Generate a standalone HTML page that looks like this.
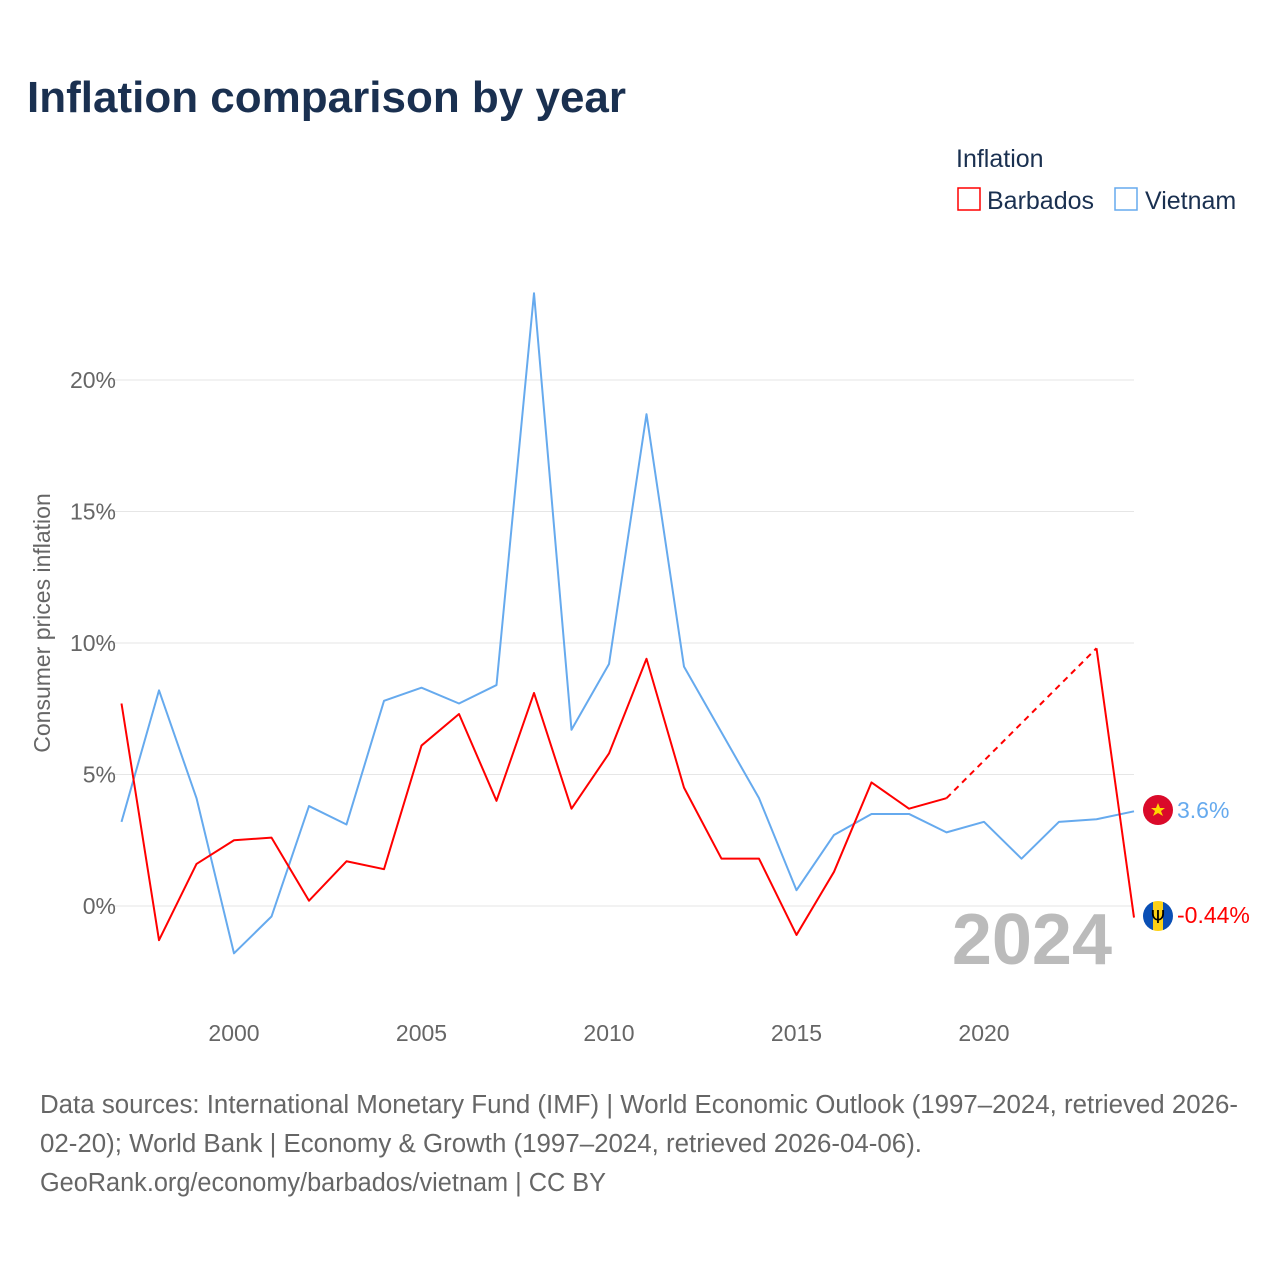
<!DOCTYPE html>
<html><head><meta charset="utf-8">
<style>
body{margin:0;background:#fff;font-family:"Liberation Sans",sans-serif;}
#wrap{position:relative;width:1280px;height:1280px;overflow:hidden;}
</style></head>
<body>
<div id="wrap">
<svg id="chart" width="1280" height="1280" xmlns="http://www.w3.org/2000/svg">
<text x="27" y="112" font-size="44" font-weight="bold" fill="#1a3050">Inflation comparison by year</text>
<text x="956" y="167" font-size="25" fill="#1a3050">Inflation</text>
<g>
<rect x="958" y="188" width="22" height="22" fill="none" stroke="#ff0000" stroke-width="1.5"/>
<text x="987" y="209" font-size="25" fill="#1a3050">Barbados</text></g>
<g>
<rect x="1115" y="188" width="22" height="22" fill="none" stroke="#66aaee" stroke-width="1.5"/>
<text x="1145" y="209" font-size="25" fill="#1a3050">Vietnam</text></g>
<text transform="translate(50,623) rotate(-90)" text-anchor="middle" font-size="23" fill="#666">Consumer prices inflation</text>
<g id="grid"></g><g id="yticks"></g><g id="xticks"></g>
<text x="1112" y="964" text-anchor="end" font-size="72" font-weight="bold" fill="#bbb">2024</text>
<g id="series"></g>
<g>
<circle cx="1158" cy="810" r="15" fill="#da0a2a"/>
<polygon points="1158,803 1160,808 1165,808 1161,811 1163,816 1158,813 1153,816 1155,811 1151,808 1156,808" fill="#ffd700"/></g>
<g>
<clipPath id="bc"><circle cx="1158" cy="916" r="15"/></clipPath>
<g clip-path="url(#bc)"><rect x="1143" y="901" width="10" height="30" fill="#0a4fb5"/><rect x="1153" y="901" width="10" height="30" fill="#fcd116"/><rect x="1163" y="901" width="10" height="30" fill="#0a4fb5"/></g>
<text x="1158" y="923" text-anchor="middle" font-size="18" font-family="DejaVu Sans" fill="#000">Ψ</text></g>
<text x="1177" y="818" font-size="23" fill="#66aaee">3.6%</text>
<text x="1177" y="923" font-size="23" fill="#ff0000">-0.44%</text>
<text font-size="25.5" fill="#666">
<tspan x="40" y="1113" textLength="1198" lengthAdjust="spacingAndGlyphs">Data sources: International Monetary Fund (IMF) | World Economic Outlook (1997–2024, retrieved 2026-</tspan>
<tspan x="40" y="1152" textLength="882" lengthAdjust="spacingAndGlyphs">02-20); World Bank | Economy &amp; Growth (1997–2024, retrieved 2026-04-06).</tspan>
<tspan x="40" y="1191" textLength="566" lengthAdjust="spacingAndGlyphs">GeoRank.org/economy/barbados/vietnam | CC BY</tspan></text>
</svg>
</div>
<script>
const years=[1997,1998,1999,2000,2001,2002,2003,2004,2005,2006,2007,2008,2009,2010,2011,2012,2013,2014,2015,2016,2017,2018,2019,2020,2021,2022,2023,2024];
const vietnam=[3.2,8.2,4.1,-1.8,-0.4,3.8,3.1,7.8,8.3,7.7,8.4,23.3,6.7,9.2,18.7,9.1,6.6,4.1,0.6,2.7,3.5,3.5,2.8,3.2,1.8,3.2,3.3,3.6];
const barbados=[7.7,-1.3,1.6,2.5,2.6,0.2,1.7,1.4,6.1,7.3,4.0,8.1,3.7,5.8,9.4,4.5,1.8,1.8,-1.1,1.3,4.7,3.7,4.1,null,null,null,9.8,-0.44];
const yTicks=[0,5,10,15,20];
const yTickLabels=["0%","5%","10%","15%","20%"];
const xTicks=[2000,2005,2010,2015,2020];
const NS="http://www.w3.org/2000/svg";
const xs=y=>121.5+(y-1997)*37.5;
const ys=v=>906-v*26.3;
function mk(tag,attrs,parent){const e=document.createElementNS(NS,tag);for(const k in attrs)e.setAttribute(k,attrs[k]);parent.appendChild(e);return e;}
const grid=document.getElementById('grid'),yt=document.getElementById('yticks'),xt=document.getElementById('xticks'),ser=document.getElementById('series');
yTicks.forEach((v,i)=>{
 const l=mk('line',{x1:110,x2:1134,y1:ys(v),y2:ys(v),stroke:'#e6e6e6','stroke-width':1},grid);
 
 
 const t=mk('text',{x:116,y:ys(v)+8,'text-anchor':'end','font-size':23,fill:'#666'},yt);
 t.textContent=yTickLabels[i];
 
 
});
xTicks.forEach(y=>{
 const t=mk('text',{x:xs(y),y:1041,'text-anchor':'middle','font-size':23,fill:'#666'},xt);
 t.textContent=y;
 
 
});
function drawLine(vals,color,name){
 let segs=[],cur=[];
 vals.forEach((v,i)=>{if(v==null){if(cur.length)segs.push(cur);cur=[];}else cur.push([xs(years[i]),ys(v)]);});
 if(cur.length)segs.push(cur);
 segs.forEach(s=>{
  const p=mk('polyline',{points:s.map(q=>q.join(',')).join(' '),fill:'none',stroke:color,'stroke-width':2,'stroke-linejoin':'round'},ser);
  
  
 });
 for(let i=0;i<vals.length;i++){
  if(vals[i]==null&&i>0&&vals[i-1]!=null){
   let j=i;while(j<vals.length&&vals[j]==null)j++;
   if(j<vals.length){
    const d=mk('line',{x1:xs(years[i-1]),y1:ys(vals[i-1]),x2:xs(years[j]),y2:ys(vals[j]),stroke:color,'stroke-width':2,'stroke-dasharray':'6,5'},ser);
    
    
   }
  }
 }
}
drawLine(vietnam,'#66aaee','vietnam');
drawLine(barbados,'#ff0000','barbados');
</script>
</body></html>
